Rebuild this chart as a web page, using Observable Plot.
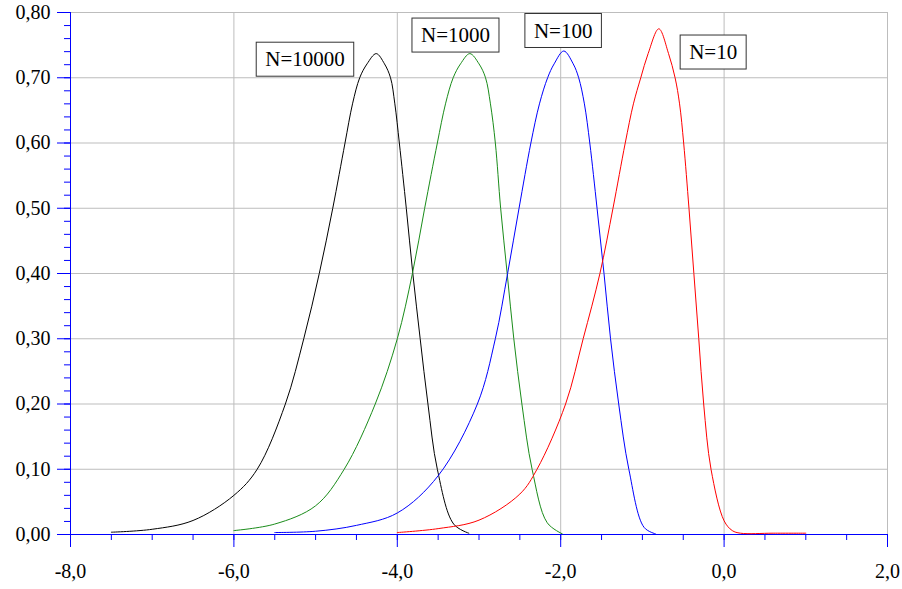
<!DOCTYPE html>
<html>
<head>
<meta charset="utf-8">
<script src="https://cdn.jsdelivr.net/npm/d3@7"></script>
<script src="https://cdn.jsdelivr.net/npm/@observablehq/plot@0.6"></script>
<style>
  html, body { margin: 0; padding: 0; background: #fff; }
  #chart svg, #chart svg text { font-family: "Liberation Serif", "Times New Roman", serif !important; }
</style>
</head>
<body>
<div id="chart"></div>
<script>
// ---- Data ----
const n10000X = [-7.5, -7.0, -6.5, -6.0, -5.715, -5.37, -5.145, -4.955, -4.79, -4.64, -4.548, -4.46, -4.37, -4.258, -4.157, -4.083, -4.03, -3.975, -3.89, -3.81, -3.72, -3.625, -3.51, -3.31, -3.125];
const n10000Y = [0.0035, 0.008, 0.0215, 0.060, 0.1, 0.2, 0.3, 0.4, 0.5, 0.6, 0.66, 0.7, 0.7213, 0.737, 0.7213, 0.7, 0.66, 0.6, 0.5, 0.4, 0.3, 0.2, 0.1, 0.016, 0.002];

const n1000X = [-6.0, -5.5, -5.0, -4.65, -4.27, -4.0, -3.815, -3.665, -3.51, -3.41, -3.316, -3.226, -3.112, -3.0, -2.92, -2.86, -2.80, -2.735, -2.655, -2.574, -2.475, -2.35, -2.165, -1.98];
const n1000Y = [0.006, 0.016, 0.044, 0.1, 0.2, 0.3, 0.4, 0.5, 0.6, 0.66, 0.7, 0.7213, 0.737, 0.7213, 0.7, 0.66, 0.6, 0.5, 0.4, 0.3, 0.2, 0.1, 0.018, 0.001];

const n100X = [-5.5, -5.0, -4.5, -4.0, -3.5, -3.02, -2.80, -2.65, -2.51, -2.365, -2.26, -2.16, -2.08, -1.962, -1.847, -1.78, -1.71, -1.644, -1.555, -1.47, -1.39, -1.29, -1.166, -0.98, -0.84];
const n100Y = [0.003, 0.005, 0.014, 0.033, 0.09, 0.2, 0.3, 0.4, 0.5, 0.6, 0.66, 0.7, 0.7213, 0.741, 0.7213, 0.7, 0.66, 0.6, 0.5, 0.4, 0.3, 0.2, 0.1, 0.011, 0.001];

const n10X = [-4.0, -3.5, -3.0, -2.5, -2.29, -1.94, -1.725, -1.52, -1.36, -1.21, -1.11, -1.02, -0.93, -0.799, -0.68, -0.60, -0.545, -0.495, -0.43, -0.37, -0.31, -0.25, -0.16, 0.0, 0.1, 0.2, 0.6, 1.0];
const n10Y = [0.003, 0.009, 0.022, 0.062, 0.1, 0.2, 0.3, 0.4, 0.5, 0.6, 0.66, 0.7, 0.737, 0.775, 0.737, 0.7, 0.66, 0.6, 0.5, 0.4, 0.3, 0.2, 0.1, 0.021, 0.006, 0.002, 0.002, 0.002];

const seriesNames = ["N=10000", "N=1000", "N=100", "N=10"];
const seriesColors = ["#000000", "#1a8c1a", "#0000ff", "#ff0000"];

// label annotation anchors (data units)
const labelText = ["N=10000", "N=1000", "N=100", "N=10"];
const labelX = [-5.13, -3.288, -1.97, -0.134];
const labelY = [0.728, 0.765, 0.772, 0.739];

const xMajor = [-8, -6, -4, -2, 0, 2];
const xMinor = d3.range(-8, 2.001, 0.5);
const yMajor = [0, 0.1, 0.2, 0.3, 0.4, 0.5, 0.6, 0.7, 0.8];
const yMinor = d3.range(0, 0.8001, 0.02);

// ---- Build table ----
const xsAll = [n10000X, n1000X, n100X, n10X];
const ysAll = [n10000Y, n1000Y, n100Y, n10Y];
const rows = [];
seriesNames.forEach((name, i) => {
  xsAll[i].forEach((x, j) => rows.push({series: name, x, y: ysAll[i][j]}));
});
const labels = labelText.map((t, i) => ({text: t, x: labelX[i], y: labelY[i]}));

const loc = d3.formatLocale({decimal: ",", thousands: ".", grouping: [3], currency: ["", ""], minus: "-"});
const fx = loc.format(".1f");
const fy = loc.format(".2f");

const font = "Liberation Serif";
const gridColor = "#bdbdbd";

const chart = Plot.plot({
  width: 902,
  height: 589,
  marginLeft: 70,
  marginRight: 15,
  marginTop: 12,
  marginBottom: 55,
  style: {fontFamily: font, background: "#fff", color: "#000"},
  x: {domain: [-8, 2], label: null},
  y: {domain: [0, 0.8], label: null},
  color: {domain: seriesNames, range: seriesColors},
  marks: [
    Plot.gridX({ticks: xMajor.slice(1), stroke: gridColor, strokeOpacity: 1}),
    Plot.gridY({ticks: yMajor.slice(1), stroke: gridColor, strokeOpacity: 1}),
    // minor ticks
    Plot.axisX({ticks: xMinor, tickSize: 6, tickFormat: () => "", label: null, stroke: "#0000ff", strokeOpacity: 1}),
    Plot.axisY({ticks: yMinor, tickSize: 6, tickFormat: () => "", label: null, stroke: "#0000ff", strokeOpacity: 1}),
    // major ticks
    Plot.axisX({ticks: xMajor, tickSize: 13, tickFormat: () => "", label: null, stroke: "#0000ff", strokeOpacity: 1}),
    Plot.axisY({ticks: yMajor, tickSize: 13, tickFormat: () => "", label: null, stroke: "#0000ff", strokeOpacity: 1}),
    // tick labels
    Plot.axisX({ticks: xMajor, tickSize: 0, tickPadding: 29, tickFormat: fx, label: null, fontSize: 20, fill: "#000", fontFamily: font}),
    Plot.axisY({ticks: yMajor, tickSize: 0, tickPadding: 20, tickFormat: fy, label: null, fontSize: 20, fill: "#000", fontFamily: font}),
    // axis lines
    Plot.ruleY([0], {stroke: "#0000ff"}),
    Plot.ruleX([-8], {stroke: "#0000ff"}),
    // curves
    Plot.line(rows, {x: "x", y: "y", z: "series", stroke: "series", strokeWidth: 1, curve: "catmull-rom"}),
    // annotation labels
    Plot.text(labels, {x: "x", y: "y", text: "text", fontSize: 21, fill: "#000", fontFamily: font, className: "nlabel"})
  ]
});

document.getElementById("chart").appendChild(chart);

// draw boxes behind annotation labels
const ns = "http://www.w3.org/2000/svg";
const svg = chart.tagName === "svg" ? chart : chart.querySelector("svg");
svg.querySelectorAll("g.nlabel text").forEach(t => {
  const b = t.getBBox();
  const padX = 9, padY = 5;
  const r = document.createElementNS(ns, "rect");
  r.setAttribute("x", b.x - padX);
  r.setAttribute("y", b.y - padY);
  r.setAttribute("width", b.width + 2 * padX);
  r.setAttribute("height", b.height + 2 * padY);
  r.setAttribute("fill", "#fff");
  r.setAttribute("stroke", "#333");
  r.setAttribute("stroke-width", 1);
  const tr = t.getAttribute("transform");
  if (tr) r.setAttribute("transform", tr);
  t.parentNode.insertBefore(r, t);
});
</script>
</body>
</html>
